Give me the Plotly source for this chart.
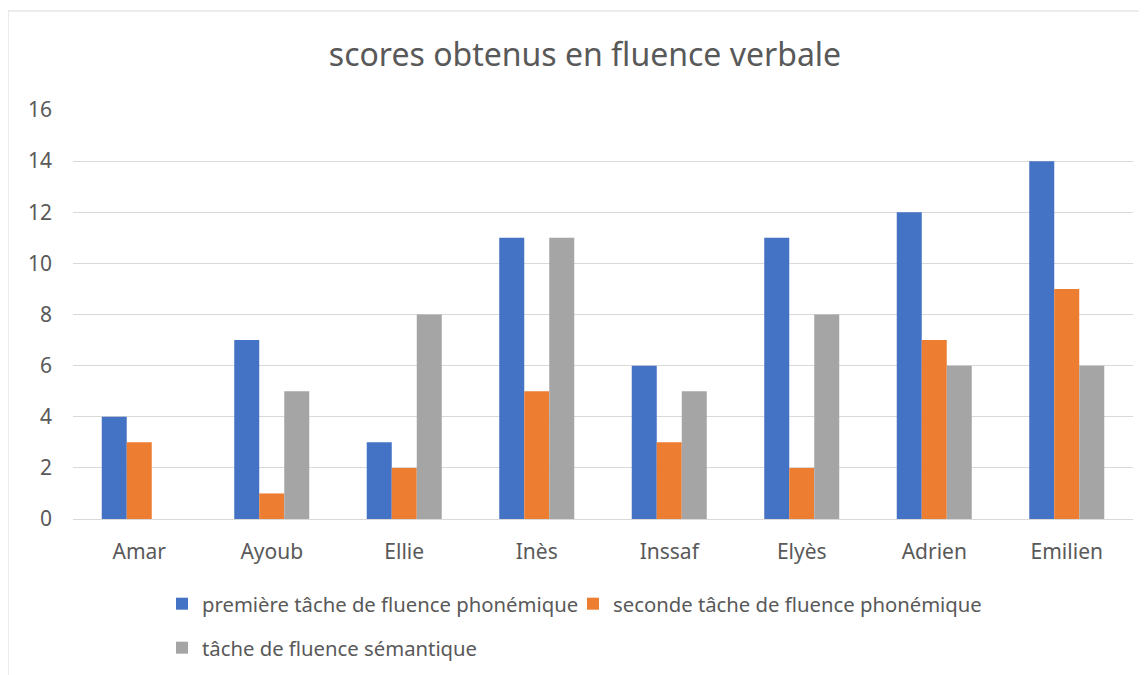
import plotly.graph_objects as go

names = ["Amar", "Ayoub", "Ellie", "Inès", "Inssaf", "Elyès", "Adrien", "Emilien"]
premiere = [4, 7, 3, 11, 6, 11, 12, 14]
seconde = [3, 1, 2, 5, 3, 2, 7, 9]
semantique = [None, 5, 8, 11, 5, 8, 6, 6]

series_labels = [
    "première tâche de fluence phonémique",
    "seconde tâche de fluence phonémique",
    "tâche de fluence sémantique",
]
colors = ["#4472C4", "#ED7D31", "#A5A5A5"]
y_ticks = [0, 2, 4, 6, 8, 10, 12, 14, 16]

FONT = "Noto Sans"
TEXT = "#595959"

# plot area in figure pixels (page adds an 8px body margin)
L, R, T, B = 65, 1125, 102, 511
PW, PH = R - L, B - T

fig = go.Figure()
for vals, label, color, leg in zip(
    [premiere, seconde, semantique], series_labels, colors, ["legend", "legend2", "legend3"]
):
    fig.add_trace(
        go.Bar(
            x=names,
            y=vals,
            name=label,
            marker=dict(color=color, line=dict(width=0)),
            legend=leg,
            showlegend=True,
        )
    )

legend_style = dict(
    orientation="h",
    xanchor="left",
    yanchor="middle",
    font=dict(family=FONT, size=20.3, color=TEXT),
    bgcolor="rgba(0,0,0,0)",
    itemclick=False,
    itemwidth=30,
    visible=True,
)

# one legend per entry, so each can sit where the original puts it
fig.update_layout(
    width=1147,
    height=675,
    margin=dict(l=L, r=1147 - R, t=T, b=675 - B),
    paper_bgcolor="white",
    plot_bgcolor="white",
    barmode="group",
    bargap=0.434,
    bargroupgap=0,
    showlegend=True,
    title=dict(
        text="scores obtenus en fluence verbale",
        x=577 / 1147,
        xanchor="center",
        y=1 - 47 / 675,
        yanchor="middle",
        font=dict(family=FONT, size=32, color=TEXT),
    ),
    legend=dict(x=(154 - L) / PW, y=(B - 596) / PH, **legend_style),
    legend2=dict(x=(565 - L) / PW, y=(B - 596) / PH, **legend_style),
    legend3=dict(x=(154 - L) / PW, y=(B - 640) / PH, **legend_style),
    font=dict(family=FONT, color=TEXT),
)

fig.update_xaxes(
    showgrid=False,
    showline=True,
    linecolor="#D9D9D9",
    linewidth=1,
    ticks="",
    ticklabelstandoff=14,
    tickfont=dict(family=FONT, size=21, color=TEXT),
    fixedrange=True,
)
fig.update_yaxes(
    range=[0, 16],
    tickvals=y_ticks,
    showgrid=True,
    gridcolor="#D9D9D9",
    gridwidth=1,
    zeroline=False,
    ticks="",
    ticklabelstandoff=20,
    tickfont=dict(family=FONT, size=21, color=TEXT),
    fixedrange=True,
)

# chart border
fig.add_shape(
    type="rect",
    xref="paper",
    yref="paper",
    x0=(0 - L) / PW,
    x1=(1160 - L) / PW,
    y0=(B - 700) / PH,
    y1=(B - 3) / PH,
    line=dict(color="#D9D9D9", width=1),
    fillcolor="rgba(0,0,0,0)",
    layer="below",
)

fig.write_html("out.html", config={"displayModeBar": False})
